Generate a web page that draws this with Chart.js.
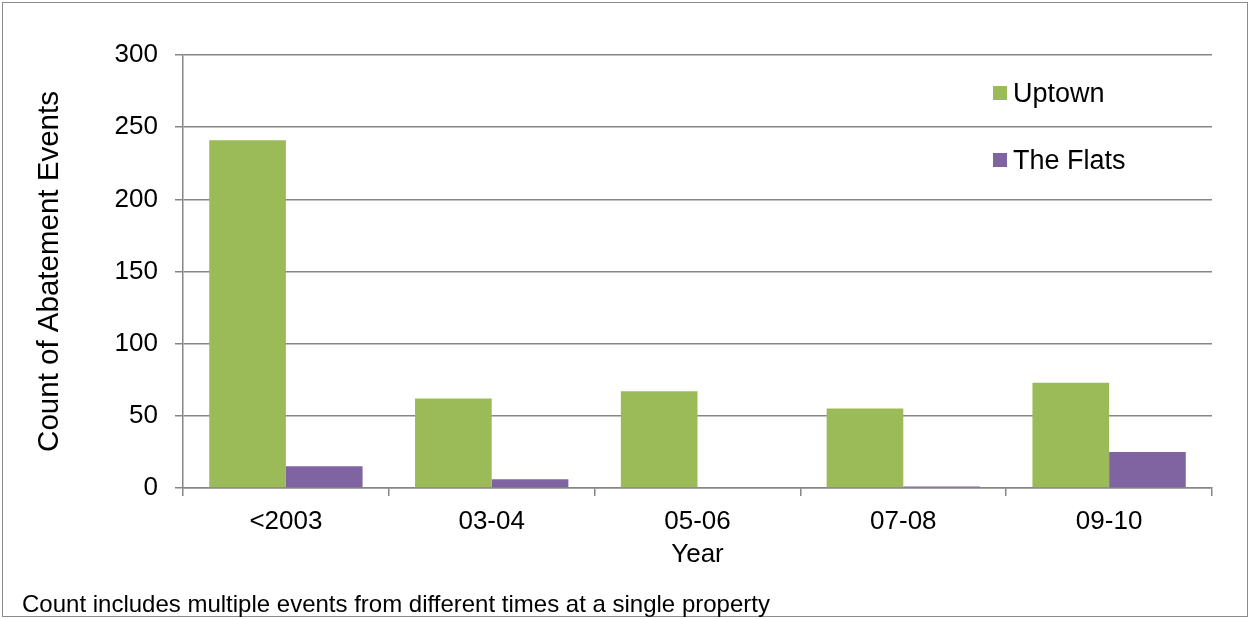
<!DOCTYPE html>
<html>

<head>
    <meta charset="utf-8">
    <title>Abatement Events by Year</title>
    <script src="https://cdn.jsdelivr.net/npm/chart.js"></script>
    <style>
        body {
            margin: 0;
            font-family: "Liberation Sans", Arial, sans-serif;
            background: #fff;
        }

        #wrap {
            position: relative;
            width: 1250px;
            height: 619px;
        }

        #frame {
            position: absolute;
            left: 2px;
            top: 2px;
            width: 1244px;
            height: 613px;
            border: 1px solid #8c8c8c;
        }

        #legend {
            position: absolute;
            left: 993px;
            top: 76px;
            font-size: 27px;
            color: #000;
        }

        .item {
            display: flex;
            align-items: center;
            height: 34px;
            margin-bottom: 33px;
        }

        .swatch {
            width: 14px;
            height: 14px;
            margin-right: 6px;
        }

        #note {
            position: absolute;
            left: 22px;
            top: 590px;
            font-size: 24px;
            color: #000;
        }
    </style>
</head>

<body>
    <div id="wrap">
        <canvas id="barChart" width="1250" height="619"></canvas>
        <div id="frame"></div>
        <div id="legend"></div>
        <div id="note">Count includes multiple events from different times at a single property</div>
    </div>

    <script>
        const years = ['<2003', '03-04', '05-06', '07-08', '09-10'];
        const uptown = [241, 62, 67, 55, 73];
        const flats = [15, 6, 0, 1, 25];
        const yTicks = [0, 50, 100, 150, 200, 250, 300];

        const green = '#9bbb59';
        const purple = '#8064a2';
        const gray = '#868686';
        const font = { family: '"Liberation Sans", Arial, sans-serif', size: 26 };

        const ctx = document.getElementById('barChart').getContext('2d');

        const chart = new Chart(ctx, {
            type: 'bar',
            data: {
                labels: years,
                datasets: [{
                    label: 'Uptown',
                    data: uptown,
                    backgroundColor: green
                }, {
                    label: 'The Flats',
                    data: flats,
                    backgroundColor: purple
                }]
            },
            options: {
                responsive: false,
                animation: false,
                devicePixelRatio: 1,
                layout: {
                    padding: { left: 20, right: 38, top: 55, bottom: 49 }
                },
                datasets: {
                    bar: { categoryPercentage: 0.745, barPercentage: 1 }
                },
                plugins: {
                    legend: { display: false },
                    tooltip: { enabled: false }
                },
                scales: {
                    x: {
                        grid: {
                            drawOnChartArea: false,
                            color: gray,
                            tickLength: 8,
                            lineWidth: 1.5
                        },
                        border: { color: gray, width: 1.5 },
                        ticks: { color: '#000', font: font, padding: 10 },
                        title: {
                            display: true,
                            text: 'Year',
                            color: '#000',
                            font: font,
                            padding: 0
                        },
                        afterFit: s => { s.height = 82; }
                    },
                    y: {
                        min: 0,
                        max: 300,
                        afterBuildTicks: s => { s.ticks = yTicks.map(v => ({ value: v })); },
                        grid: {
                            color: gray,
                            tickLength: 8,
                            lineWidth: 1.5
                        },
                        border: { color: gray, width: 1.5 },
                        ticks: { color: '#000', font: font, padding: 17 },
                        title: {
                            display: true,
                            text: 'Count of Abatement Events',
                            color: '#000',
                            font: { family: font.family, size: 29.5 },
                            padding: { top: 12, bottom: 0 }
                        },
                        afterFit: s => { s.width = 163; }
                    }
                }
            }
        });

        // legend built from the dataset names and colours
        const legend = document.getElementById('legend');
        chart.data.datasets.forEach(ds => {
            const item = document.createElement('div');
            item.className = 'item';
            item.innerHTML = '<div class="swatch" style="background:' + ds.backgroundColor + '"></div>' + ds.label;
            legend.appendChild(item);
        });
    </script>
</body>

</html>
